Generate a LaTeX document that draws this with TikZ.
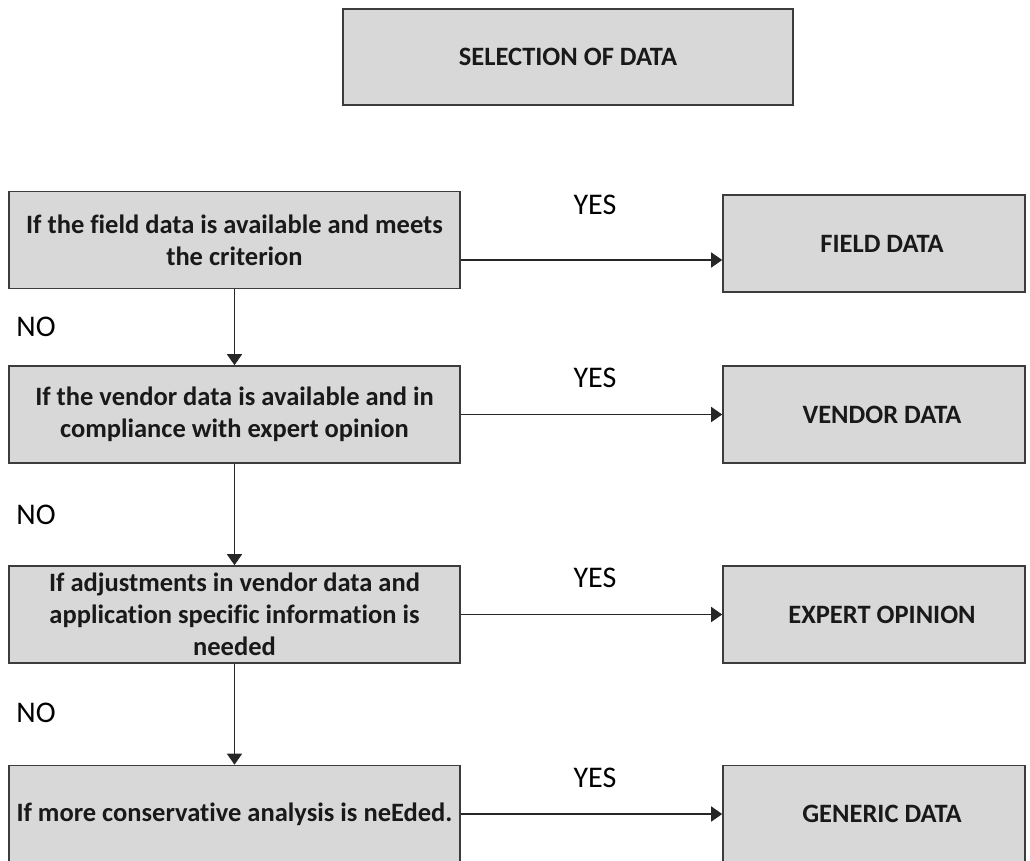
\documentclass[tikz,border=0pt]{standalone}
\usepackage{fontspec}
\setmainfont[Ligatures={NoCommon}]{Carlito}
\usetikzlibrary{arrows.meta}
\definecolor{boxfill}{HTML}{D8D8D8}
\definecolor{boxline}{HTML}{3C3C3C}
\begin{document}
\begin{tikzpicture}[x=1pt,y=-1pt,
  basebox/.style={draw=boxline, fill=boxfill, line width=1.6pt, inner sep=0pt,
    align=center, text=black!90, font=\bfseries\fontsize{26.5}{32}\selectfont},
  topbox/.style={basebox, minimum width=450pt, minimum height=96pt},
  askbox/.style={basebox, minimum width=451pt, minimum height=97pt},
  databox/.style={basebox, minimum width=302pt, minimum height=97pt,
    execute at begin node=\hspace*{16pt}},
  answer/.style={inner sep=0pt, font=\fontsize{30}{36}\selectfont},
  flow/.style={draw=black!85, line width=1.4pt, -{Triangle[length=11pt,width=15pt]}}
]
\clip (0,0) rectangle (1030,861);
\fill[white] (0,0) rectangle (1030,861);

% heading
\node[topbox] (top) at (568,57) {SELECTION OF DATA};

% decision column
\node[askbox] (q1) at (234.5,240) {If the field data is available and meets\\the criterion};
\node[askbox] (q2) at (234.5,414.5) {If the vendor data is available and in\\compliance with expert opinion};
\node[askbox] (q3) at (234.5,614.5) {If adjustments in vendor data and\\application specific information is\\needed};
\node[askbox] (q4) at (234.5,814) {If more conservative analysis is neEded.};

% outcome column
\node[databox] (r1) at (874,243.5) {FIELD DATA};
\node[databox] (r2) at (874,414.5) {VENDOR DATA};
\node[databox] (r3) at (874,614.5) {EXPERT OPINION};
\node[databox] (r4) at (874,814) {GENERIC DATA};

% NO branches
\draw[flow] (q1.south) -- (q2.north);
\draw[flow] (q2.south) -- (q3.north);
\draw[flow] (q3.south) -- (q4.north);

% YES branches
\coordinate (y1) at ([yshift=-20pt]q1.east);
\draw[flow] (y1) -- (y1 -| r1.west);
\draw[flow] (q2.east) -- (q2.east -| r2.west);
\draw[flow] (q3.east) -- (q3.east -| r3.west);
\draw[flow] (q4.east) -- (q4.east -| r4.west);

% branch labels
\node[answer] (yes1) at (595,205) {YES};
\node[answer] (yes2) at (595,378) {YES};
\node[answer] (yes3) at (595,578) {YES};
\node[answer] (yes4) at (595,778) {YES};
\node[answer] (no1) at (36,327) {NO};
\node[answer] (no2) at (36,515) {NO};
\node[answer] (no3) at (36,713) {NO};
\end{tikzpicture}
\end{document}
